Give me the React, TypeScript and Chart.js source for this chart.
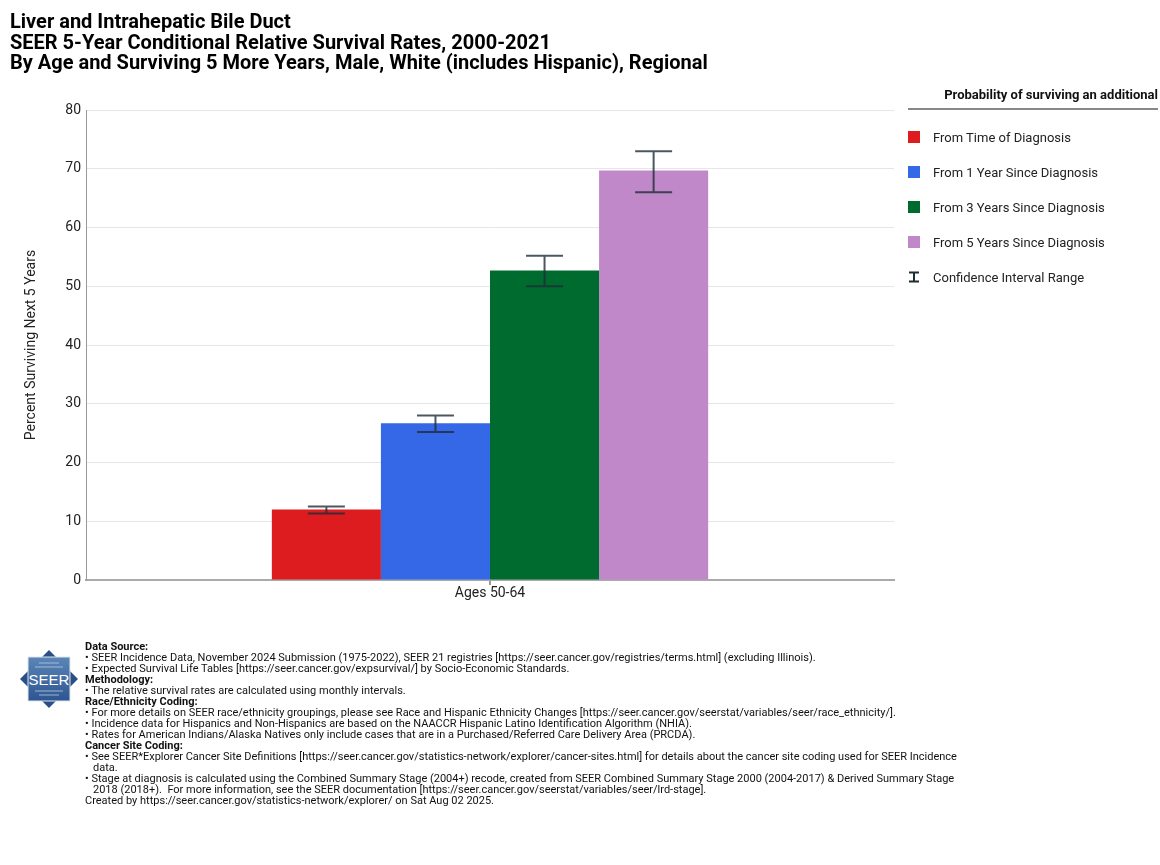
import React, { useEffect, useRef } from "react";
import { Chart, registerables } from "chart.js";

Chart.register(...registerables);

const categories = ["Ages 50-64"];
const seriesLabels = [
  "From Time of Diagnosis",
  "From 1 Year Since Diagnosis",
  "From 3 Years Since Diagnosis",
  "From 5 Years Since Diagnosis",
];
const seriesColors = ["#DD1C20", "#3468E6", "#006B2F", "#C088C8"];
const rates = [12.0, 26.7, 52.7, 69.7];
const ciLow = [11.3, 25.2, 50.0, 66.0];
const ciHigh = [12.5, 28.0, 55.2, 73.0];
const yTicks = [0, 10, 20, 30, 40, 50, 60, 70, 80];

const titleLines = [
  "Liver and Intrahepatic Bile Duct",
  "SEER 5-Year Conditional Relative Survival Rates, 2000-2021",
  "By Age and Surviving 5 More Years, Male, White (includes Hispanic), Regional",
];

const footerLines: { text: string; bold?: boolean; indent?: boolean }[] = [
  { text: "Data Source:", bold: true },
  { text: "• SEER Incidence Data, November 2024 Submission (1975-2022), SEER 21 registries [https://seer.cancer.gov/registries/terms.html] (excluding Illinois)." },
  { text: "• Expected Survival Life Tables [https://seer.cancer.gov/expsurvival/] by Socio-Economic Standards." },
  { text: "Methodology:", bold: true },
  { text: "• The relative survival rates are calculated using monthly intervals." },
  { text: "Race/Ethnicity Coding:", bold: true },
  { text: "• For more details on SEER race/ethnicity groupings, please see Race and Hispanic Ethnicity Changes [https://seer.cancer.gov/seerstat/variables/seer/race_ethnicity/]." },
  { text: "• Incidence data for Hispanics and Non-Hispanics are based on the NAACCR Hispanic Latino Identification Algorithm (NHIA)." },
  { text: "• Rates for American Indians/Alaska Natives only include cases that are in a Purchased/Referred Care Delivery Area (PRCDA)." },
  { text: "Cancer Site Coding:", bold: true },
  { text: "• See SEER*Explorer Cancer Site Definitions [https://seer.cancer.gov/statistics-network/explorer/cancer-sites.html] for details about the cancer site coding used for SEER Incidence" },
  { text: "data.", indent: true },
  { text: "• Stage at diagnosis is calculated using the Combined Summary Stage (2004+) recode, created from SEER Combined Summary Stage 2000 (2004-2017) & Derived Summary Stage" },
  { text: "2018 (2018+).  For more information, see the SEER documentation [https://seer.cancer.gov/seerstat/variables/seer/lrd-stage].", indent: true },
  { text: "Created by https://seer.cancer.gov/statistics-network/explorer/ on Sat Aug 02 2025." },
];

const FONT = "Roboto, 'Noto Sans', sans-serif";

const errorBarPlugin = {
  id: "errorBars",
  afterDatasetsDraw(chart: any) {
    const ctx = chart.ctx;
    const yScale = chart.scales.y;
    ctx.save();
    chart.data.datasets.forEach((ds: any, i: number) => {
      const meta = chart.getDatasetMeta(i);
      meta.data.forEach((bar: any, j: number) => {
        const lo = ds.ciLow[j];
        const hi = ds.ciHigh[j];
        const x = bar.x;
        const yLo = yScale.getPixelForValue(lo);
        const yHi = yScale.getPixelForValue(hi);
        ctx.strokeStyle = "rgba(30,45,55,0.8)";
        ctx.lineWidth = 2;
        ctx.beginPath();
        ctx.moveTo(x, yHi);
        ctx.lineTo(x, yLo);
        ctx.moveTo(x - 18.5, yHi);
        ctx.lineTo(x + 18.5, yHi);
        ctx.moveTo(x - 18.5, yLo);
        ctx.lineTo(x + 18.5, yLo);
        ctx.stroke();
      });
    });
    ctx.restore();
  },
};

function SeerLogo() {
  return (
    <svg width="60" height="60" viewBox="0 0 60 60" style={{ position: "absolute", left: 19, top: 649 }}>
      <defs>
        <linearGradient id="sg" x1="0" y1="0" x2="0" y2="1">
          <stop offset="0" stopColor="#5b86b8" />
          <stop offset="1" stopColor="#2d5590" />
        </linearGradient>
      </defs>
      <polygon points="30,1 59,30 30,59 1,30" fill="#2a4f86" />
      <rect x="9" y="8" width="42" height="44" fill="url(#sg)" stroke="#dfe6f0" strokeWidth="1" />
      <line x1="20" y1="14" x2="40" y2="14" stroke="#b9cbe3" strokeWidth="0.8" />
      <line x1="16" y1="18" x2="44" y2="18" stroke="#b9cbe3" strokeWidth="0.8" />
      <line x1="16" y1="42" x2="44" y2="42" stroke="#b9cbe3" strokeWidth="0.8" />
      <line x1="20" y1="46" x2="40" y2="46" stroke="#b9cbe3" strokeWidth="0.8" />
      <text x="30" y="35.5" textAnchor="middle" fill="#ffffff" fontFamily="'Liberation Sans', 'DejaVu Sans', sans-serif" fontSize="15">SEER</text>
    </svg>
  );
}

export default function App() {
  const canvasRef = useRef<HTMLCanvasElement | null>(null);

  useEffect(() => {
    if (!canvasRef.current) return;
    const chart = new Chart(canvasRef.current, {
      type: "bar",
      data: {
        labels: categories,
        datasets: seriesLabels.map((label, i) => ({
          label,
          data: [rates[i]],
          backgroundColor: seriesColors[i],
          borderWidth: 0,
          barPercentage: 1,
          categoryPercentage: 0.54,
          ciLow: [ciLow[i]],
          ciHigh: [ciHigh[i]],
        })) as any,
      },
      options: {
        animation: false,
        responsive: false,
        maintainAspectRatio: false,
        layout: { padding: { left: 18, top: 110, right: 266, bottom: 255 } },
        plugins: {
          legend: { display: false },
          title: { display: false },
          tooltip: { enabled: false },
        },
        scales: {
          x: {
            grid: {
              display: true,
              drawOnChartArea: false,
              drawTicks: true,
              tickLength: 5,
              offset: false,
              color: "#999999",
              lineWidth: 2,
            },
            border: { display: true, color: "#aaaaaa", width: 2 },
            ticks: { color: "#222222", font: { family: FONT, size: 14 }, padding: 0 },
            afterFit: (s: any) => {
              s.height = 30;
            },
          },
          y: {
            min: 0,
            max: 80,
            afterBuildTicks: (s: any) => {
              s.ticks = yTicks.map((v) => ({ value: v }));
            },
            grid: { color: "#e6e6e6", lineWidth: 1, drawTicks: false },
            border: { display: true, color: "#999999", width: 1 },
            ticks: { color: "#222222", font: { family: FONT, size: 14 }, padding: 5 },
            title: {
              display: true,
              text: "Percent Surviving Next 5 Years",
              color: "#222222",
              font: { family: FONT, size: 14 },
              padding: { top: 5, bottom: 0 },
            },
            afterFit: (s: any) => {
              s.width = 68;
            },
          },
        },
      },
      plugins: [errorBarPlugin],
    });
    return () => chart.destroy();
  }, []);

  return (
    <div style={{ position: "absolute", left: 0, top: 0, width: 1160, height: 865, background: "#fff", fontFamily: FONT, overflow: "hidden" }}>
      <canvas ref={canvasRef} width={1160} height={865} style={{ position: "absolute", left: 0, top: 0, width: 1160, height: 865 }} />
      <div style={{ position: "absolute", left: 10, top: 11, fontSize: 20, fontWeight: 700, lineHeight: "20.5px", color: "#000" }}>
        {titleLines.map((t, i) => (
          <div key={i}>{t}</div>
        ))}
      </div>
      <div style={{ position: "absolute", left: 900, top: 87, width: 258, textAlign: "right", fontSize: 13, fontWeight: 700, color: "#111", lineHeight: "16px" }}>
        Probability of surviving an additional
      </div>
      <div style={{ position: "absolute", left: 908, top: 108, width: 250, height: 2, background: "#888" }} />
      {seriesLabels.map((label, i) => (
        <div key={i} style={{ position: "absolute", left: 908, top: 129 + i * 35, height: 16, display: "flex", alignItems: "center" }}>
          <div style={{ width: 12, height: 12, background: seriesColors[i] }} />
          <div style={{ marginLeft: 13, fontSize: 13, color: "#222" }}>{label}</div>
        </div>
      ))}
      <div style={{ position: "absolute", left: 908, top: 269, height: 16, display: "flex", alignItems: "center" }}>
        <svg width="12" height="12" viewBox="0 0 12 12">
          <path d="M1,1.5 H11 M6,1.5 V10.5 M1,10.5 H11" stroke="#1e2d34" strokeWidth="2" fill="none" />
        </svg>
        <div style={{ marginLeft: 13, fontSize: 13, color: "#222" }}>Confidence Interval Range</div>
      </div>
      <SeerLogo />
      <div style={{ position: "absolute", left: 85, top: 641, fontSize: 11, lineHeight: "11px", color: "#111", whiteSpace: "pre" }}>
        {footerLines.map((l, i) => (
          <div key={i} style={{ fontWeight: l.bold ? 700 : 400, paddingLeft: l.indent ? 8 : 0 }}>{l.text}</div>
        ))}
      </div>
    </div>
  );
}
